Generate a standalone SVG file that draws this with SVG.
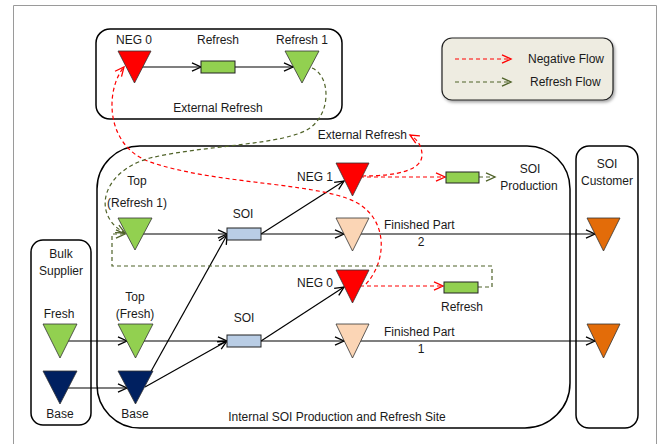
<svg xmlns="http://www.w3.org/2000/svg" width="659" height="444" viewBox="0 0 659 444">
<defs>
<marker id="ab" markerUnits="userSpaceOnUse" markerWidth="12" markerHeight="12" refX="8" refY="4" orient="auto" viewBox="0 0 10 8"><path d="M0.5 0.5 L8 4 L0.5 7.5" fill="none" stroke="#000" stroke-width="1.1"/></marker>
<marker id="ar" markerUnits="userSpaceOnUse" markerWidth="12" markerHeight="12" refX="8" refY="4" orient="auto" viewBox="0 0 10 8"><path d="M0.5 0.5 L8 4 L0.5 7.5" fill="none" stroke="#ff0000" stroke-width="1.1"/></marker>
<marker id="ag" markerUnits="userSpaceOnUse" markerWidth="12" markerHeight="12" refX="8" refY="4" orient="auto" viewBox="0 0 10 8"><path d="M0.5 0.5 L8 4 L0.5 7.5" fill="none" stroke="#4f6228" stroke-width="1.1"/></marker>
<filter id="sh" x="-10%" y="-10%" width="130%" height="140%"><feDropShadow dx="1.5" dy="2" stdDeviation="1.5" flood-color="#000" flood-opacity="0.35"/></filter>
</defs>
<style>
text{font-family:"Liberation Sans",Arial,sans-serif;font-size:12px;fill:#1a1a1a}
.c{text-anchor:middle}
.box{fill:#fff;stroke:#000;stroke-width:1.5}
.tri{stroke:#333;stroke-width:0.8}
.red{fill:#ff0000}.grn{fill:#92d050}.navy{fill:#002060}.peach{fill:#fbd5b5}.org{fill:#e36c09}
.rect{stroke:#222;stroke-width:1}
.blk{fill:none;stroke:#000;stroke-width:1.2;marker-end:url(#ab)}
.rd{fill:none;stroke:#ff0000;stroke-width:1.2;stroke-dasharray:4 3}
.gd{fill:none;stroke:#4f6228;stroke-width:1.2;stroke-dasharray:4 3}
</style>
<rect x="0" y="0" width="659" height="444" fill="#fff"/>
<path d="M13.5 444 V5.5 H656.5 V444" fill="none" stroke="#9a9a9a" stroke-width="1"/>

<g id="external-refresh">
<rect class="box" x="96" y="29" width="246" height="90" rx="14"/>
<text class="c" x="218" y="112">External Refresh</text>
</g>
<g id="legend">
<rect x="442" y="38" width="171" height="62" rx="10" fill="#eeece1" stroke="#222" stroke-width="1.2" filter="url(#sh)"/>
<path class="rd" d="M455 59 H511" marker-end="url(#ar)"/>
<path class="gd" d="M455 82 H511" marker-end="url(#ag)"/>
<text x="528" y="63">Negative Flow</text>
<text x="530" y="86">Refresh Flow</text>
</g>
<g id="internal-site">
<path class="box" d="M141 146 H527 A43 43 0 0 1 570 189 V383 A45 45 0 0 1 525 428 H140 A43 43 0 0 1 97 385 V189 A43 43 0 0 1 141 146 Z"/>
<text class="c" x="337" y="421">Internal SOI Production and Refresh Site</text>
</g>
<g id="bulk-supplier">
<rect class="box" x="31" y="240" width="60" height="185" rx="12"/>
<text class="c" x="61" y="258">Bulk</text>
<text class="c" x="61" y="275">Supplier</text>
</g>
<g id="soi-customer">
<rect class="box" x="576" y="146" width="62" height="282" rx="13"/>
<text class="c" x="607" y="168">SOI</text>
<text class="c" x="607" y="185">Customer</text>
</g>

<g id="connectors">
<path class="blk" d="M140 67 H201"/>
<path class="blk" d="M235 67 H293"/>
<path class="blk" d="M140 234 H227"/>
<path class="blk" d="M261 234 L344 181"/>
<path class="blk" d="M261 234 H344"/>
<path class="blk" d="M355 234 H595"/>
<path class="blk" d="M62 341 H127"/>
<path class="blk" d="M62 388 H127"/>
<path class="blk" d="M140 341 H227"/>
<path class="blk" d="M144 384 L227 235"/>
<path class="blk" d="M145 387 L227 341"/>
<path class="blk" d="M261 341 L344 287"/>
<path class="blk" d="M261 341 H344"/>
<path class="blk" d="M355 341 H595"/>
<path class="rd" d="M360 177 H445" marker-end="url(#ar)"/>
<path class="rd" d="M362 176 C398 176 422 170 422 155 C422 146 417 139 410 135" marker-end="url(#ar)"/>
<path class="rd" d="M360 286 H443" marker-end="url(#ar)"/>
<path class="rd" d="M366 284 C386 262 388 225 362 206 C330 182 220 186 150 162 C105 146 105 90 124 67" marker-end="url(#ar)"/>
<path class="gd" d="M479 177 H495" marker-end="url(#ag)"/>
<path class="gd" d="M478 287 H492 V266 H112 V234 H125" marker-end="url(#ag)"/>
<path class="gd" d="M312 68 C330 75 332 112 310 128 C286 145 205 145 150 158 C100 172 92 216 125 233" marker-end="url(#ag)"/>
</g>

<g id="neg0-top"><path class="tri red" d="M118 51 H151 L134.5 83 Z"/><text class="c" x="134" y="44">NEG 0</text></g>
<g id="refresh-top"><rect class="rect grn" x="201" y="61" width="34" height="12"/><text class="c" x="218" y="44">Refresh</text></g>
<g id="refresh1-top"><path class="tri grn" d="M285 51 H319 L302 83 Z"/><text class="c" x="302" y="44">Refresh 1</text></g>

<g id="top-refresh1"><path class="tri grn" d="M118 218 H152 L135 250 Z"/><text class="c" x="137" y="185">Top</text><text class="c" x="137" y="207">(Refresh 1)</text></g>
<g id="soi-upper"><rect class="rect" fill="#b9cde5" x="227" y="228" width="34" height="12"/><text class="c" x="243" y="218">SOI</text></g>
<g id="neg1"><path class="tri red" d="M336 163 H369 L352.5 196 Z"/><text x="333" y="181" text-anchor="end">NEG 1</text></g>
<g id="finished-part-2"><path class="tri peach" d="M336 218 H369 L352.5 251 Z"/><text x="384" y="229">Finished Part</text><text class="c" x="421" y="246">2</text></g>
<g id="soi-production"><rect class="rect grn" x="446" y="172" width="33" height="11"/><text class="c" x="530" y="173">SOI</text><text class="c" x="529" y="190">Production</text></g>
<g id="external-refresh-label"><text x="407" y="139" text-anchor="end">External Refresh</text></g>
<g id="customer-2"><path class="tri org" d="M587 218 H620 L603.5 251 Z"/></g>

<g id="neg0-lower"><path class="tri red" d="M336 270 H369 L352.5 303 Z"/><text x="333" y="287" text-anchor="end">NEG 0</text></g>
<g id="refresh-lower"><rect class="rect grn" x="444" y="282" width="34" height="11"/><text class="c" x="462" y="311">Refresh</text></g>
<g id="fresh"><path class="tri grn" d="M43 324 H77 L60 358 Z"/><text class="c" x="59" y="318">Fresh</text></g>
<g id="base-supplier"><path class="tri navy" d="M43 371 H77 L60 404 Z"/><text class="c" x="60" y="418">Base</text></g>
<g id="top-fresh"><path class="tri grn" d="M118 324 H153 L135.5 358 Z"/><text class="c" x="135" y="301">Top</text><text class="c" x="135" y="318">(Fresh)</text></g>
<g id="base-internal"><path class="tri navy" d="M118 371 H153 L135.5 404 Z"/><text class="c" x="135" y="418">Base</text></g>
<g id="soi-lower"><rect class="rect" fill="#b9cde5" x="227" y="335" width="34" height="12"/><text class="c" x="244" y="322">SOI</text></g>
<g id="finished-part-1"><path class="tri peach" d="M336 324 H369 L352.5 358 Z"/><text x="384" y="336">Finished Part</text><text class="c" x="421" y="353">1</text></g>
<g id="customer-1"><path class="tri org" d="M587 324 H620 L603.5 358 Z"/></g>
</svg>
